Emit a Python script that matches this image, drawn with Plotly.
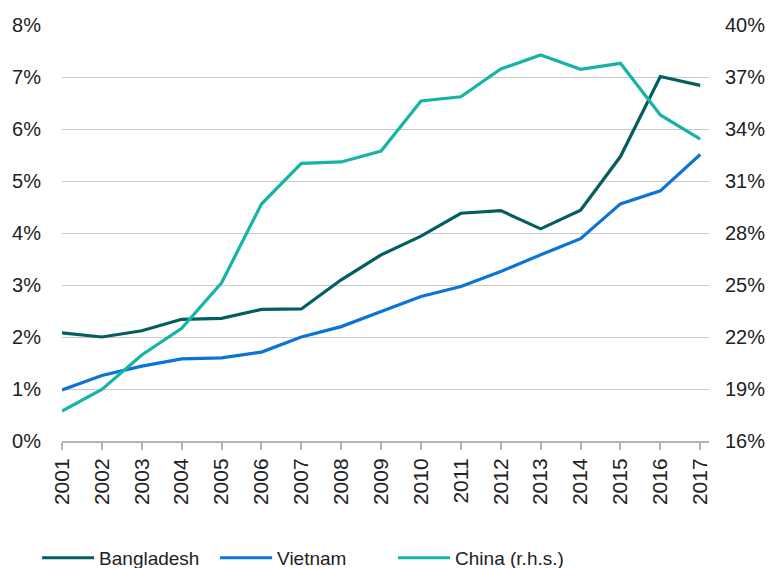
import plotly.graph_objects as go

# years on the x axis
years = list(range(2001, 2018))

# share values in %
bangladesh = [2.08, 2.00, 2.12, 2.34, 2.36, 2.53, 2.54, 3.10, 3.58, 3.94,
              4.38, 4.43, 4.08, 4.44, 5.47, 7.01, 6.84]
vietnam = [0.98, 1.26, 1.44, 1.58, 1.60, 1.71, 2.00, 2.20, 2.49, 2.78,
           2.97, 3.26, 3.58, 3.89, 4.56, 4.81, 5.51]
# China on the right-hand scale
china = [17.73, 18.98, 20.96, 22.50, 25.13, 29.67, 32.02, 32.10, 32.73, 35.62,
         35.86, 37.46, 38.27, 37.44, 37.79, 34.81, 33.42]

left_ticks = list(range(0, 9))
right_ticks = list(range(16, 41, 3))

font_family = "Liberation Sans, Arial, sans-serif"
text_color = "#222222"
grid_color = "#c9c9c9"

fig = go.Figure()

fig.add_trace(go.Scatter(x=years, y=bangladesh, mode="lines", name="Bangladesh",
                         line=dict(color="#035e60", width=3.2)))
fig.add_trace(go.Scatter(x=years, y=vietnam, mode="lines", name="Vietnam",
                         line=dict(color="#0b74d6", width=3.2)))
fig.add_trace(go.Scatter(x=years, y=china, mode="lines", name="China (r.h.s.)",
                         line=dict(color="#17b3a7", width=3.2), yaxis="y2"))

# page body has an 8px margin, so the figure is a bit smaller than the window
fig.update_layout(
    width=765, height=560,
    margin=dict(l=54, r=64, t=17, b=127),
    paper_bgcolor="white", plot_bgcolor="white",
    font=dict(family=font_family, size=20, color=text_color),
    xaxis=dict(
        range=[2001, 2017.22], tickmode="array", tickvals=years,
        ticktext=[str(y) for y in years], tickangle=-90,
        tickfont=dict(size=21),
        showgrid=False, zeroline=False, automargin=False,
        showline=True, linecolor="#b3b3b3", linewidth=2,
        ticks="outside", ticklen=7, tickcolor="#b3b3b3", tickwidth=1.5,
    ),
    yaxis=dict(
        range=[0, 8], tickmode="array", tickvals=left_ticks,
        ticktext=[f"{v}%" for v in left_ticks],
        showgrid=True, gridcolor=grid_color, gridwidth=1.2, automargin=False,
        zeroline=False, showline=False, ticks="", ticklabelstandoff=20,
    ),
    yaxis2=dict(
        range=[16, 40], tickmode="array", tickvals=right_ticks,
        ticktext=[f"{v}%" for v in right_ticks], automargin=False,
        overlaying="y", side="right", showgrid=False,
        zeroline=False, showline=False, ticks="", ticklabelstandoff=15,
    ),
    legend=dict(
        orientation="h", xref="container", yref="container",
        x=0.038, xanchor="left", y=0.018, yanchor="middle",
        itemwidth=52, entrywidth=111, entrywidthmode="pixels",
        font=dict(size=19, color=text_color), bgcolor="rgba(0,0,0,0)",
    ),
)

fig.write_html("out.html")
